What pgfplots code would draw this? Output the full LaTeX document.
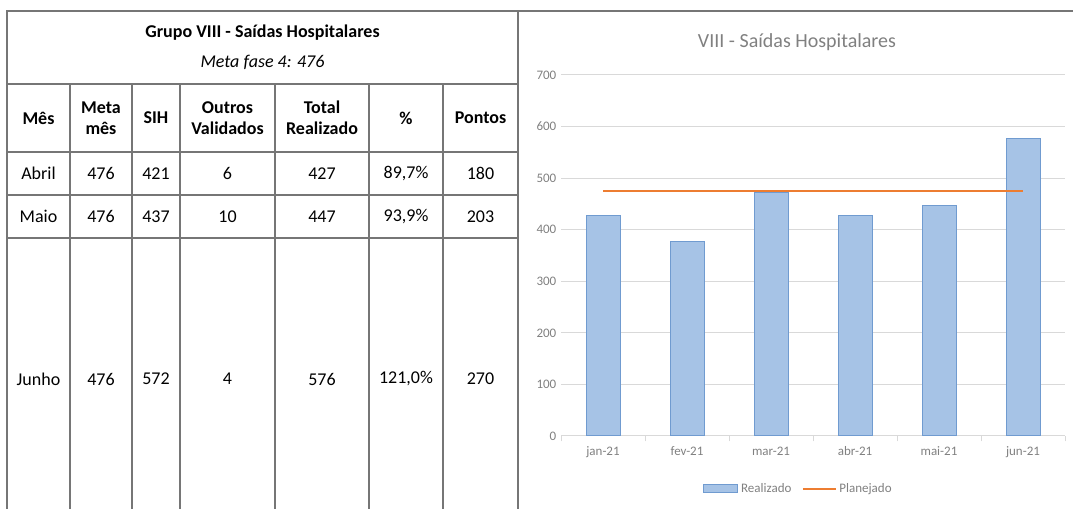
\documentclass[border=0pt]{standalone}
\usepackage{fontspec}
\setmainfont{Carlito}
\usepackage{pgfplots}
\pgfplotsset{compat=1.18}
\definecolor{gridc}{RGB}{217,217,217}
\definecolor{txtc}{RGB}{128,128,128}
\definecolor{barfill}{RGB}{166,195,230}
\definecolor{bardraw}{RGB}{112,155,208}
\definecolor{planc}{RGB}{237,125,49}
\definecolor{tabline}{RGB}{118,118,118}
\newcommand{\tabfont}{\fontsize{13.5}{16}\selectfont}
\begin{document}
\begin{tikzpicture}
\useasboundingbox (0,0) rectangle (804.75pt,381.75pt);
% table, drawn in pixel units of the reference
\begin{scope}[x=0.75pt,y=-0.75pt,yshift=381.75pt]
\draw[tabline, line width=1.5pt] (7,509) -- (7,11) -- (1073,11);
\draw[tabline, line width=1.5pt] (518,11) -- (518,509);
\foreach \yy in {84,152,195,238}
  \draw[tabline, line width=1.5pt] (7,\yy) -- (518,\yy);
\foreach \xx in {70,132,180,275,369,443}
  \draw[tabline, line width=1.5pt] (\xx,84) -- (\xx,509);
\node[font=\tabfont\bfseries] at (262.5,33) {Grupo VIII - Saídas Hospitalares};
\node[font=\tabfont\itshape] at (262.5,62) {Meta fase 4: 476};
\begin{scope}[every node/.style={font=\tabfont\bfseries, align=center}]
\node at (38.5,118) {Mês};
\node at (101,118) {Meta\\mês};
\node at (156,118) {SIH};
\node at (227.5,118) {Outros\\Validados};
\node at (322,118) {Total\\Realizado};
\node at (406,118) {\%};
\node at (480.5,118) {Pontos};
\end{scope}
\begin{scope}[every node/.style={font=\tabfont}]
\foreach \yy/\m/\a/\b/\c/\d/\e/\f in {173.5/Abril/476/421/6/427/{89,7\%}/180,
    216.5/Maio/476/437/10/447/{93,9\%}/203,
    379/Junho/476/572/4/576/{121,0\%}/270} {
  \node at (38.5,\yy) {\m};
  \node at (101,\yy) {\a};
  \node at (156,\yy) {\b};
  \node at (227.5,\yy) {\c};
  \node at (322,\yy) {\d};
  \node at (406,\yy) {\e};
  \node at (480.5,\yy) {\f};
}
\end{scope}
\end{scope}

\node[text=txtc, font=\fontsize{15}{18}\selectfont] at (597.75pt,350.25pt) {VIII - Saídas Hospitalares};

\begin{axis}[
  at={(420.75pt,54.75pt)}, anchor=south west,
  scale only axis, width=378pt, height=270.75pt,
  xmin=-0.5, xmax=5.5, ymin=0, ymax=700,
  xtick={0,...,5},
  xticklabels={jan-21,fev-21,mar-21,abr-21,mai-21,jun-21},
  minor xtick={-0.5,0.5,...,5.5},
  ytick={0,100,...,700},
  ymajorgrids,
  grid style={draw=gridc, line width=0.75pt},
  axis x line=bottom, axis y line=left,
  axis line style={-},
  x axis line style={draw=gridc, line width=0.75pt},
  y axis line style={draw=none},
  major tick length=0pt, minor tick length=4pt, tick align=outside,
  minor tick style={draw=gridc, line width=0.75pt},
  ticklabel style={font=\fontsize{9.75}{11}\selectfont, text=txtc},
  xticklabel style={yshift=-4.5pt},
  /pgf/number format/assume math mode=true,
  legend columns=2,
  legend style={at={(0.472,-0.146)}, anchor=center, draw=none, fill=none,
    font=\fontsize{9.75}{11}\selectfont, text=txtc,
    /tikz/every even column/.append style={column sep=6pt}},
]
\addplot[ybar, bar width=25.5pt, fill=barfill, draw=bardraw, line width=0.75pt,
  legend image code/.code={\draw[fill=barfill, draw=bardraw, line width=0.75pt] (0pt,-3pt) rectangle (25.5pt,3pt);}]
  coordinates {(0,427) (1,377) (2,473) (3,427) (4,447) (5,576)};
\addlegendentry{Realizado}
\addplot[sharp plot, planc, line width=1.5pt,
  legend image code/.code={\draw[planc, line width=1.2pt] (0pt,0pt) -- (24.75pt,0pt);}]
  coordinates {(0,476) (5,476)};
\addlegendentry{Planejado}
\end{axis}
\end{tikzpicture}
\end{document}
